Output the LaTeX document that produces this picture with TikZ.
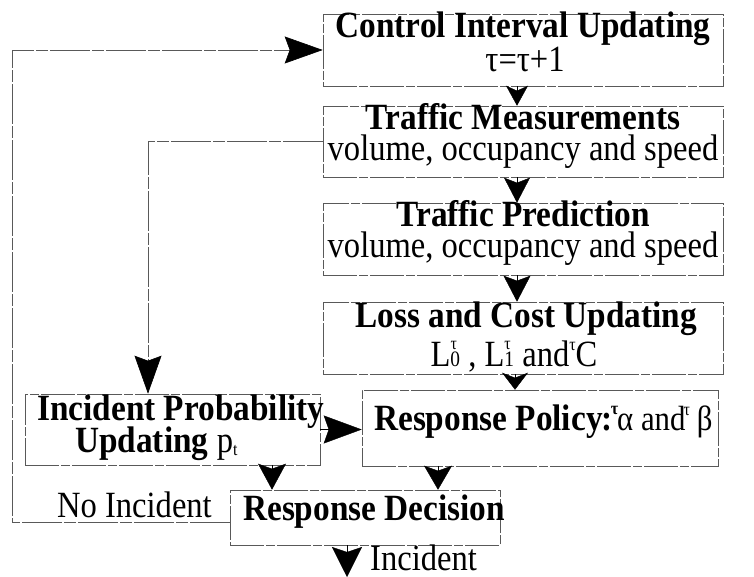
\documentclass[tikz,border=0pt]{standalone}
\usepackage{fontspec}
\setmainfont{Liberation Serif}[FakeStretch=0.88, BoldFeatures={FakeStretch=0.9}]
\usetikzlibrary{arrows.meta}
\newcommand{\tausup}{\raisebox{0.42em}{\fontsize{18}{18}\selectfont τ}}
\newcommand{\supsub}[2]{\makebox[0pt][l]{\raisebox{0.45em}{\fontsize{18}{18}\selectfont #1}}\raisebox{-0.02em}{\fontsize{22}{22}\selectfont #2}}
\tikzset{
  box/.style={draw=black!65, line width=0.6pt, dash pattern=on 34pt off 2pt on 9pt off 2pt, rectangle, inner sep=0pt},
  link/.style={draw=black!65, line width=0.6pt, dash pattern=on 40pt off 2pt on 12pt off 2pt},
  arr/.style 2 args={-{Stealth[length=#1,width=#2,inset=5pt,black]}},
  txt/.style={anchor=base, inner sep=0pt, text height=26pt, text depth=5pt, font=\fontsize{37}{37}\selectfont},
  btxt/.style={anchor=base, inner sep=0pt, text height=26pt, text depth=5pt, font=\fontsize{37}{37}\selectfont\bfseries}
}
\begin{document}
\begin{tikzpicture}[x=1pt,y=-1pt]
\useasboundingbox (0,0) rectangle (754,577);
% boxes
\node[box, minimum width=400pt, minimum height=72pt] (ctrl) at (523,50) {};
\node[box, minimum width=400pt, minimum height=71pt] (meas) at (523,141.5) {};
\node[box, minimum width=400pt, minimum height=72pt] (pred) at (523,239) {};
\node[box, minimum width=400pt, minimum height=72pt] (loss) at (523,338) {};
\node[box, minimum width=356pt, minimum height=76pt] (pol) at (540,428) {};
\node[box, minimum width=295pt, minimum height=71pt] (prob) at (172.5,429.5) {};
\node[box, minimum width=270pt, minimum height=55pt] (dec) at (365,517.5) {};
% texts
\node[btxt] (t1a) at (523,38) {Control Interval Updating};
\node[txt]  (t1b) at (525,72) {τ=τ+1};
\node[btxt] (t2a) at (523,130) {Traffic Measurements};
\node[txt]  (t2b) at (523,161) {volume, occupancy and speed};
\node[btxt] (t3a) at (523,227) {Traffic Prediction};
\node[txt]  (t3b) at (523,258) {volume, occupancy and speed};
\node[btxt] (t4a) at (526,327) {Loss and Cost Updating};
\node[txt]  (t4b) at (514,366) {L\supsub{τ}{0} , L\supsub{τ}{1} and\tausup C};
\node[btxt, anchor=base west] (t5) at (374,430) {Response Policy\kern-1pt:\kern-2pt\tausup\kern-1pt{\mdseries\fontsize{35}{35}\selectfont α\ and\kern-2pt\tausup\kern7pt β}};
\node[btxt, anchor=base west] (t6a) at (37,420) {Incident Probability};
\node[btxt, anchor=base west] (t6b) at (75,452) {Updating {\mdseries p\raisebox{-0.1em}{\fontsize{18}{18}\selectfont t}}};
\node[btxt, anchor=base west] (t7) at (243,520) {Response Decision};
\node[txt, anchor=base west] (noinc) at (57,517) {No Incident};
\node[txt, anchor=base west] (inc) at (370,570) {Incident};
% coordinates
\coordinate (ni) at (230,522);
\coordinate (c1) at (12,522);
\coordinate (out) at (347,577);
% main chain
\draw[arr={20pt}{22pt}] ([xshift=-6pt]ctrl.south) -- ([xshift=-6pt]meas.north);
\draw[arr={25pt}{26pt}] ([xshift=-6pt]meas.south) -- ([xshift=-6pt]pred.north);
\draw[arr={26pt}{27pt}] ([xshift=-6pt]pred.south) -- ([xshift=-6pt]loss.north);
\draw[arr={17pt}{26pt}] ([xshift=-8pt]loss.south) -- ([xshift=-8pt]loss.south |- pol.north);
% measurement branch
\draw[link, arr={38pt}{27pt}] (meas.west) -| ([xshift=-24.5pt]prob.north);
% probability to policy
\draw[arr={38pt}{28pt}] (prob.east) -- (prob.east -| pol.west);
% to decision
\draw[arr={26pt}{28pt}] ([xshift=99.5pt]prob.south) -- ([xshift=99.5pt]prob.south |- dec.north);
\draw[arr={24pt}{28pt}] ([xshift=-102pt]pol.south) -- ([xshift=-102pt]pol.south |- dec.north);
\draw[arr={30pt}{30pt}] (dec.south -| out) -- (out);
% no incident loop
\draw[link, arr={38pt}{27pt}] (ni) -- (c1) |- (ctrl.west);
\end{tikzpicture}
\end{document}
